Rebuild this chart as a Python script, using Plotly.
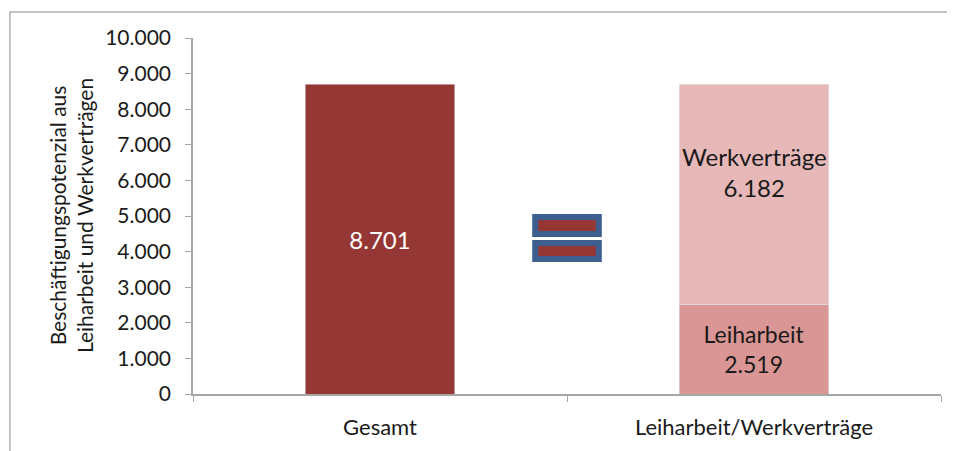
import plotly.graph_objects as go

# Daten
categories = ["Gesamt", "Leiharbeit/Werkverträge"]
gesamt = [8701]
leiharbeit = [2519]
werkvertraege = [6182]
y_ticks = list(range(0, 10001, 1000))

FONT = "Lato, Carlito, Calibri, sans-serif"
DARK_RED = "#953735"
LEIH_COLOR = "#d99694"
WERK_COLOR = "#e6b9b8"
EQ_BLUE = "#3d5f8f"
AXIS_GRAY = "#a6a6a6"

fig = go.Figure()

fig.add_trace(go.Bar(
    x=[categories[0]], y=gesamt,
    marker_color=DARK_RED, width=0.4,
    texttemplate="%{y:,d}", textposition="inside", insidetextanchor="middle",
    textfont=dict(color="white", size=24, family=FONT),
    constraintext="none", hoverinfo="skip", showlegend=False
))

fig.add_trace(go.Bar(
    x=[categories[1]], y=leiharbeit,
    marker_color=LEIH_COLOR, width=0.4,
    texttemplate="Leiharbeit<br>%{y:,d}", textposition="inside", insidetextanchor="middle",
    textfont=dict(color="#1a1a1a", size=23, family=FONT),
    constraintext="none", hoverinfo="skip", showlegend=False
))

fig.add_trace(go.Bar(
    x=[categories[1]], y=werkvertraege,
    marker_color=WERK_COLOR, width=0.4,
    hoverinfo="skip", showlegend=False
))

# Beschriftung Werkverträge im oberen Teil des Segments
fig.add_annotation(
    x=categories[1], y=leiharbeit[0] + werkvertraege[0] * 0.6,
    text=f"Werkverträge<br>{werkvertraege[0]:,}".replace(",", "."),
    showarrow=False, font=dict(color="#1a1a1a", size=24, family=FONT)
)

# Gleichheitszeichen zwischen den Balken
for y0, y1 in [(4494, 4972), (3792, 4242)]:
    fig.add_shape(
        type="rect", xref="x", yref="y",
        x0=0.5 - 0.085, x1=0.5 + 0.085, y0=y0, y1=y1,
        line=dict(color=EQ_BLUE, width=6), fillcolor=DARK_RED, layer="above"
    )

# Y-Achsentitel
fig.add_annotation(
    xref="paper", yref="paper", x=-0.163, y=0.5,
    text="Beschäftigungspotenzial aus<br>Leiharbeit und Werkverträgen",
    textangle=-90, showarrow=False, xanchor="center", yanchor="middle",
    font=dict(color="#1a1a1a", size=21, family=FONT)
)

# Rahmen (links und oben)
fig.add_shape(type="line", xref="paper", yref="paper",
              x0=-0.2447, x1=-0.2447, y0=-0.3, y1=1.073,
              line=dict(color="#868686", width=1))
fig.add_shape(type="line", xref="paper", yref="paper",
              x0=-0.2447, x1=1.2, y0=1.073, y1=1.073,
              line=dict(color="#868686", width=1))

fig.update_layout(
    width=947, height=443,
    barmode="stack", bargap=0.6,
    separators=",.",
    paper_bgcolor="white", plot_bgcolor="white",
    margin=dict(l=185, r=14, t=30, b=57),
    font=dict(family=FONT, color="#1a1a1a"),
    xaxis=dict(
        showgrid=False, showline=True, linecolor=AXIS_GRAY, linewidth=1.5,
        ticks="outside", tickson="boundaries", ticklen=6, tickcolor=AXIS_GRAY,
        tickfont=dict(size=22, family=FONT, color="#1a1a1a"),
        ticklabelstandoff=13
    ),
    yaxis=dict(
        range=[0, 10000], tickvals=y_ticks, tickformat=",d",
        showgrid=False, showline=True, linecolor=AXIS_GRAY, linewidth=1.5,
        ticks="outside", ticklen=6, tickcolor=AXIS_GRAY,
        tickfont=dict(size=21, family=FONT, color="#1a1a1a"),
        ticklabelstandoff=10, zeroline=False
    ),
)

fig.write_html("out.html")
